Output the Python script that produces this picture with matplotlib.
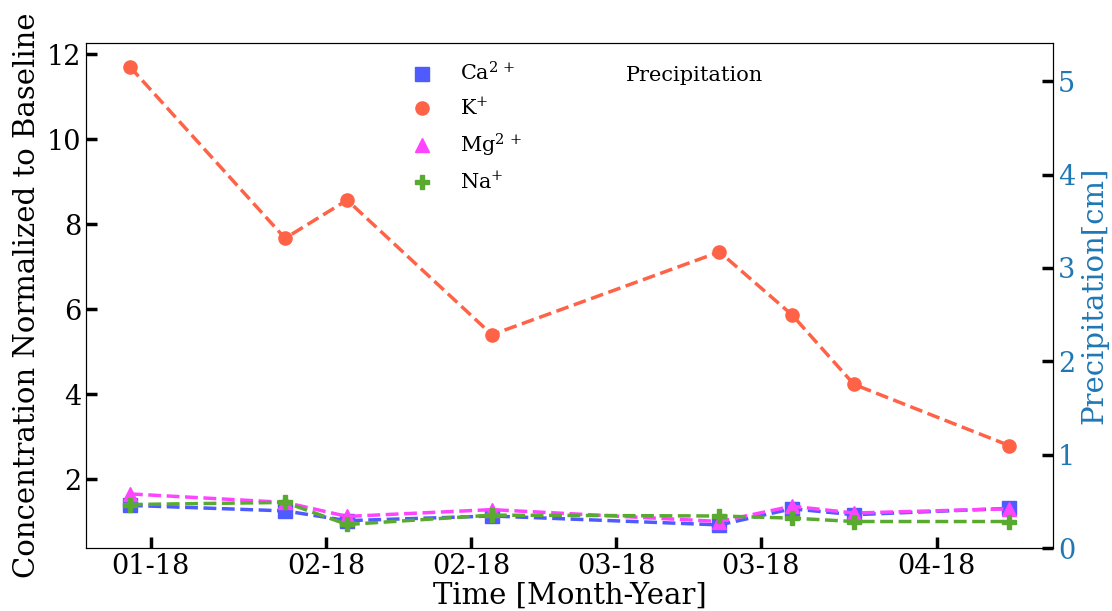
import matplotlib
matplotlib.use("Agg")
import matplotlib.pyplot as plt
import matplotlib.dates as mdates
from matplotlib.lines import Line2D
from matplotlib.patches import Rectangle
import numpy as np

# sampling dates and normalized concentrations
dates = np.array(['2018-01-13', '2018-01-28', '2018-02-03', '2018-02-17',
                  '2018-03-11', '2018-03-18', '2018-03-24', '2018-04-08'],
                 dtype='datetime64[D]')
ca = [1.38, 1.25, 1.02, 1.13, 0.92, 1.30, 1.16, 1.31]
k = [11.71, 7.67, 8.57, 5.40, 7.35, 5.87, 4.23, 2.79]
mg = [1.65, 1.45, 1.12, 1.28, 1.00, 1.36, 1.20, 1.30]
na = [1.40, 1.45, 0.93, 1.15, 1.13, 1.08, 1.00, 1.00]

series = [
    (ca, r'Ca$^{2\,+}$', '#4d5bff', 's'),
    (k, r'K$^{+}$', '#ff6347', 'o'),
    (mg, r'Mg$^{2\,+}$', '#ff44ff', '^'),
    (na, r'Na$^{+}$', '#5aaa32', 'P'),
]

plt.rcParams['font.family'] = 'DejaVu Serif'
plt.rcParams['mathtext.fontset'] = 'dejavuserif'

fig = plt.figure(figsize=(11.12, 6.11), dpi=100)
ax = fig.add_axes([0.0773, 0.1031, 0.8697, 0.8265])

handles = []
for vals, lab, col, mk in series:
    ax.plot(dates.astype('O'), vals, linestyle='--', color=col, lw=2.5,
            marker=mk, markersize=9.5)
    handles.append(Line2D([], [], linestyle='none', marker=mk, color=col,
                          markersize=9.5, label=lab))

ax.set_ylim(0.376, 12.27)
ax.set_yticks([2, 4, 6, 8, 10, 12])
ax.xaxis.set_major_locator(mdates.DayLocator(bymonthday=[1, 15]))
ax.xaxis.set_major_formatter(mdates.DateFormatter('%m-%y'))
ax.tick_params(axis='both', direction='in', length=8, width=2.5, labelsize=19.5)
ax.set_xlabel('Time [Month-Year]', fontsize=21, labelpad=1)
ax.set_ylabel('Concentration Normalized to Baseline', fontsize=21, labelpad=4)

ax2 = ax.twinx()
ax2.set_ylim(0, 5.41)
ax2.set_yticks([0, 1, 2, 3, 4, 5])
ax2.tick_params(axis='y', direction='in', length=8, width=2.5, labelsize=19.5,
                colors='black', labelcolor='#1f77b4')
ax2.set_ylabel('Precipitation[cm]', fontsize=21, color='#1f77b4', labelpad=4)

blank = Rectangle((0, 0), 1, 1, fill=False, edgecolor='none', visible=False)
all_handles = handles + [blank, blank, blank, blank]
all_labels = [h.get_label() for h in handles] + ['Precipitation', '', '', '']
ax2.legend(all_handles, all_labels, ncol=2, frameon=False, fontsize=15,
           loc='upper left', bbox_to_anchor=(0.307, 1.0),
           handletextpad=0.8, columnspacing=2.2, labelspacing=0.6)

fig.savefig('out.png', dpi=100)
